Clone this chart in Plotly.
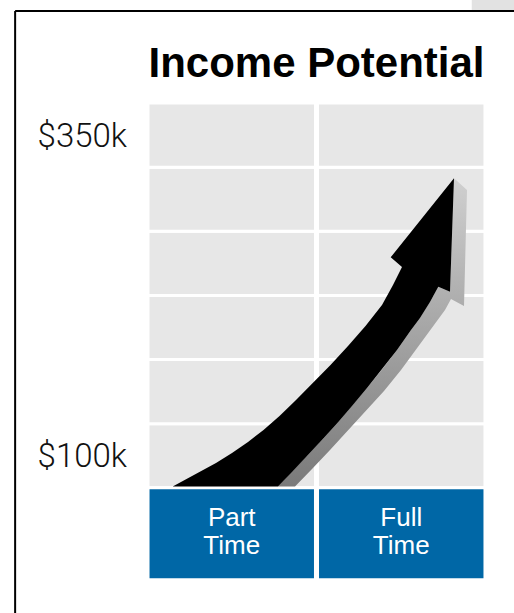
import plotly.graph_objects as go

# ---- data ----
categories = ["Part Time", "Full Time"]
cat_pos = [0, 1]
label_line1 = ["Part", "Full"]
label_line2 = ["Time", "Time"]
row_bottoms_k = [75, 125, 175, 225, 275, 325]
row_step_k = 50
tick_vals_k = [100, 350]
tick_labels = ["$100k", "$350k"]

# ---- arrow outline in pixel space, mapped through the axes ----
# upper edge of shaft (tail -> barb), then head, then lower edge (barb -> tail)
arrow_px = [172.7, 185, 200, 216, 232, 248, 263.5, 279.5, 296, 313, 330.5, 348, 365.5, 382,
            393, 402, 390.7, 454, 450, 438.3, 430, 420, 411, 397, 382, 367, 352, 337, 321,
            306, 292, 278]
arrow_py = [486.5, 480, 472, 463, 453, 442, 430, 416, 400, 383, 365, 346, 326, 305,
            285, 267, 257.3, 178.3, 291.7, 286.7, 302, 318, 330, 350, 369.5, 388, 406,
            423.5, 441, 457.5, 472, 486.5]
shadow_px = [454, 467, 464, 451, 445, 432, 417, 401, 384, 366, 348, 330, 312, 295,
             278, 292, 306, 321, 337, 352, 367, 382, 397, 411, 420, 430, 438.3, 450]
shadow_py = [178.3, 190, 306, 299, 310, 328, 349, 370, 391, 411, 430.5, 450, 469, 486.5,
             486.5, 472, 457.5, 441, 423.5, 406, 388, 369.5, 350, 330, 318, 302, 286.7, 291.7]

# ---- geometry of the plot area (px) ----
W, H = 514, 613
ML, MR, MT, MB = 147, 28, 71, 29
XR = [-0.5, 1.5]
YR = [0, 400]


def to_x(px):
    return XR[0] + (px - ML) * (XR[1] - XR[0]) / (W - ML - MR)


def to_y(py):
    return YR[0] + (H - MB - py) * (YR[1] - YR[0]) / (H - MT - MB)


arrow_x = [to_x(v) for v in arrow_px]
arrow_y = [to_y(v) for v in arrow_py]
shadow_x = [to_x(v) for v in shadow_px]
shadow_y = [to_y(v) for v in shadow_py]

# ---- styles ----
GRAY = "#e7e7e7"
BLUE = "#0067a6"
band_bottom = 3.3
band_top = row_bottoms_k[0]

fig = go.Figure()

# gray grid cells
gx, gbase, gy = [], [], []
for p in cat_pos:
    for b in row_bottoms_k:
        gx.append(p)
        gbase.append(b)
        gy.append(row_step_k)
fig.add_trace(go.Bar(x=gx, y=gy, base=gbase, width=0.988,
                     marker=dict(color=GRAY, line=dict(color="white", width=3)),
                     hoverinfo="skip", showlegend=False))

# blue category band
fig.add_trace(go.Bar(x=cat_pos, y=[band_top - band_bottom] * len(cat_pos),
                     base=[band_bottom] * len(cat_pos), width=0.988,
                     marker=dict(color=BLUE, line=dict(color="white", width=3)),
                     hovertext=categories, hoverinfo="text", showlegend=False))

# arrow shadow
fig.add_trace(go.Scatter(x=shadow_x, y=shadow_y, mode="lines", fill="toself",
                         line=dict(width=0),
                         fillgradient=dict(type="vertical",
                                           colorscale=[[0, "#7a7a7a"], [1, "#d0d0d0"]]),
                         hoverinfo="skip", showlegend=False))
# arrow
fig.add_trace(go.Scatter(x=arrow_x, y=arrow_y, mode="lines", fill="toself",
                         fillcolor="black", line=dict(width=0, color="black"),
                         hoverinfo="skip", showlegend=False))

# category labels
lab_font = dict(family="Liberation Sans, Arial, sans-serif", size=26, color="white")
fig.add_trace(go.Scatter(x=cat_pos, y=[50.3] * 2, mode="text", text=label_line1,
                         textposition="middle center", textfont=lab_font,
                         hoverinfo="skip", showlegend=False))
fig.add_trace(go.Scatter(x=cat_pos, y=[28.8] * 2, mode="text", text=label_line2,
                         textposition="middle center", textfont=lab_font,
                         hoverinfo="skip", showlegend=False))

# frame decorations
fig.add_shape(type="rect", xref="paper", yref="paper", x0=0.958, x1=1.2, y0=1.1189, y1=1.16,
              fillcolor="#e2e2e2", line=dict(width=0), layer="below")
fig.add_shape(type="line", xref="paper", yref="paper", x0=-0.389, x1=1.2, y0=1.117, y1=1.117,
              line=dict(color="black", width=2))
fig.add_shape(type="line", xref="paper", yref="paper", x0=-0.389, x1=-0.389, y0=1.117, y1=-0.1,
              line=dict(color="black", width=2))

fig.update_layout(
    width=W, height=H,
    margin=dict(l=ML, r=MR, t=MT, b=MB),
    paper_bgcolor="white", plot_bgcolor="white",
    barmode="overlay",
    title=dict(text="Income Potential", x=0.5, xref="paper", xanchor="center",
               y=1 - 62 / 613, yref="container", yanchor="middle",
               font=dict(family="Liberation Sans, Arial, sans-serif", size=42,
                         color="black", weight=700)),
    xaxis=dict(range=XR, visible=False, fixedrange=True),
    yaxis=dict(range=YR, tickvals=tick_vals_k, ticktext=tick_labels,
               showgrid=False, zeroline=False, showline=False, ticks="",
               ticklabelstandoff=19,
               tickfont=dict(family="Roboto, Liberation Sans, sans-serif", size=33,
                             color="#111111", weight=300),
               fixedrange=True),
)

fig.write_html("out.html", config={"displayModeBar": False},
               post_script="document.body.style.margin='0';document.body.style.overflow='hidden';")
